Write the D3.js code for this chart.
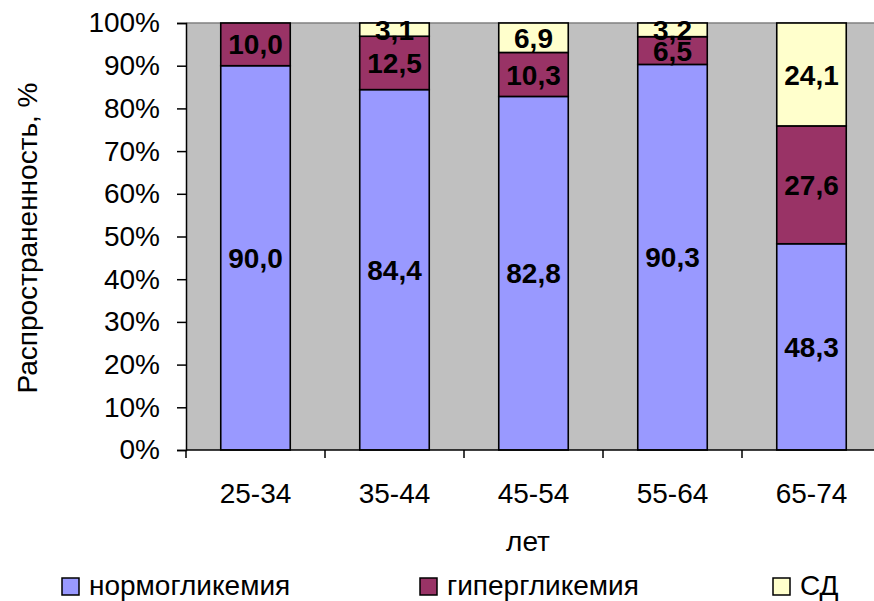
<!DOCTYPE html>
<html>
<head>
<meta charset="utf-8">
<script src="https://cdn.jsdelivr.net/npm/d3@7"></script>
<style>
  html, body { margin: 0; padding: 0; background: #fff; }
  svg { display: block; font-family: "Liberation Sans", Arial, sans-serif; }
</style>
</head>
<body>
<svg id="chart" width="874" height="601"></svg>
<script>
// Age groups and prevalence (%) by glycaemic status
const categories = ["25-34", "35-44", "45-54", "55-64", "65-74"];
const seriesNames = ["нормогликемия", "гипергликемия", "СД"];
const normo = [90.0, 84.4, 82.8, 90.3, 48.3];
const hyper = [10.0, 12.5, 10.3, 6.5, 27.6];
const diabetes = [0.0, 3.1, 6.9, 3.2, 24.1];
const yTicks = [0, 10, 20, 30, 40, 50, 60, 70, 80, 90, 100];
const colors = ["#9999FF", "#993366", "#FFFFCC"];

const rows = categories.map((c, i) => ({
  cat: c,
  "нормогликемия": normo[i],
  "гипергликемия": hyper[i],
  "СД": diabetes[i]
}));

const FS = 28;
const svg = d3.select("#chart");
const plotLeft = 186, plotRight = 881, plotTop = 23, plotBottom = 450;

const x = d3.scaleBand().domain(categories).range([plotLeft, plotRight])
  .paddingInner(0.5).paddingOuter(0.25);
const y = d3.scaleLinear().domain([0, 100]).range([plotBottom, plotTop]);

// plot area
svg.append("rect")
  .attr("x", plotLeft).attr("y", plotTop)
  .attr("width", plotRight - plotLeft).attr("height", plotBottom - plotTop)
  .attr("fill", "#C0C0C0");
svg.append("line")
  .attr("x1", plotLeft).attr("x2", plotRight).attr("y1", plotTop).attr("y2", plotTop)
  .attr("stroke", "#808080").attr("stroke-width", 1.5);

// stacked bars
const stack = d3.stack().keys(seriesNames)(rows);
const layers = svg.append("g").selectAll("g")
  .data(stack).join("g")
  .attr("fill", (d, i) => colors[i]);

layers.selectAll("rect")
  .data(d => d.filter(p => p[1] - p[0] > 0))
  .join("rect")
  .attr("x", d => x(d.data.cat))
  .attr("width", x.bandwidth())
  .attr("y", d => y(d[1]))
  .attr("height", d => y(d[0]) - y(d[1]))
  .attr("stroke", "#000")
  .attr("stroke-width", 1.6);

// value labels
const fmt = v => v.toFixed(1).replace(".", ",");
const labels = svg.append("g")
  .attr("font-size", FS).attr("font-weight", "bold")
  .attr("text-anchor", "middle").attr("fill", "#000");
stack.forEach(layer => {
  layer.forEach(p => {
    const v = p[1] - p[0];
    if (v <= 0) return;
    labels.append("text")
      .attr("x", x(p.data.cat) + x.bandwidth() / 2)
      .attr("y", (y(p[0]) + y(p[1])) / 2)
      .attr("dy", "0.36em")
      .text(fmt(v));
  });
});

// y axis
const yAxis = d3.axisLeft(y).tickValues(yTicks).tickFormat(d => d + "%")
  .tickSize(9).tickPadding(17);
const gy = svg.append("g").attr("transform", `translate(${plotLeft},0)`).call(yAxis);
gy.select(".domain").attr("stroke", "#000").attr("stroke-width", 1.5);
gy.selectAll(".tick line").attr("stroke", "#000").attr("stroke-width", 1.5);
gy.selectAll(".tick text").attr("font-size", FS).attr("fill", "#000")
  .attr("font-family", "Liberation Sans, Arial, sans-serif");

// x axis: category labels centred, tick marks on band boundaries
const gx = svg.append("g").attr("transform", `translate(0,${plotBottom})`);
gx.append("line").attr("x1", plotLeft).attr("x2", plotRight)
  .attr("stroke", "#000").attr("stroke-width", 1.5);
const step = x.step();
const bounds = d3.range(categories.length + 1).map(i => plotLeft + i * step);
gx.selectAll("line.tk").data(bounds).join("line").attr("class", "tk")
  .attr("x1", d => d).attr("x2", d => d).attr("y1", 0).attr("y2", 8)
  .attr("stroke", "#000").attr("stroke-width", 1.5);
gx.selectAll("text").data(categories).join("text")
  .attr("x", d => x(d) + x.bandwidth() / 2)
  .attr("y", 53)
  .attr("text-anchor", "middle").attr("font-size", FS).attr("fill", "#000")
  .text(d => d);

// axis titles
svg.append("text")
  .attr("transform", "translate(37,238) rotate(-90)")
  .attr("text-anchor", "middle").attr("font-size", FS)
  .text("Распространенность, %");
svg.append("text")
  .attr("x", 528).attr("y", 551)
  .attr("text-anchor", "middle").attr("font-size", FS)
  .text("лет");

// legend
const legendX = [62, 420, 773];
const legend = svg.append("g").selectAll("g")
  .data(seriesNames).join("g")
  .attr("transform", (d, i) => `translate(${legendX[i]},0)`);
legend.append("rect")
  .attr("x", 0).attr("y", 578).attr("width", 17).attr("height", 17)
  .attr("fill", (d, i) => colors[i])
  .attr("stroke", "#000").attr("stroke-width", 1.5);
legend.append("text")
  .attr("x", 27).attr("y", 595)
  .attr("font-size", FS).attr("fill", "#000")
  .text(d => d);
</script>
</body>
</html>
